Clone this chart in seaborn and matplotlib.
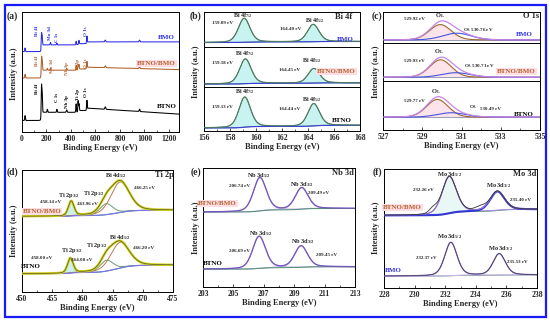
import numpy as np
import matplotlib
matplotlib.use("Agg")
import matplotlib.pyplot as plt
import seaborn as sns
from matplotlib.patches import Rectangle
from matplotlib.ticker import MultipleLocator

sns.set_theme(style="ticks")
plt.rcParams["font.family"] = ["Liberation Serif", "DejaVu Serif"]
plt.rcParams["font.weight"] = "bold"
plt.rcParams["axes.labelweight"] = "bold"
plt.rcParams["mathtext.fontset"] = "custom"
plt.rcParams["mathtext.rm"] = "Liberation Serif:bold"
plt.rcParams["mathtext.it"] = "Liberation Serif:bold"
plt.rcParams["mathtext.bf"] = "Liberation Serif:bold"

# ---------------- data ----------------
sample_colors = {"BMO": "#2b2be6", "BTNO/BMO": "#b0602a", "BTNO": "black"}

# (a) survey: peak centres (eV), widths, heights per sample (arb. units, 0-100 panel)
survey_centers = [25, 159, 164.5, 207, 232, 285, 365, 442, 458, 465, 530, 680, 960]
survey_widths = [6, 6, 6, 6, 6, 6, 8, 6, 5, 6, 6, 9, 8]
survey_heights = {
    "BMO":      [3, 13, 9, 0, 2.0, 1.5, 0, 3, 0, 3, 6, 1.5, 1.5],
    "BTNO/BMO": [3, 15, 10, 1.5, 1.5, 0, 1.5, 4, 4, 4, 6, 1.5, 1.5],
    "BTNO":     [4, 26, 18, 2.5, 0, 2.5, 2, 7, 9, 6, 8, 2, 2],
}
# background: start level, step after Bi 4f, step at 460, step after O 1s, decay to right end
survey_bg = {
    "BMO":      [67.0, 5.6, 1.0, 1.5, 0.0],
    "BTNO/BMO": [45.0, 6.5, 1.0, 1.5, 2.0],
    "BTNO":     [9.6, 6.8, 1.5, 2.0, 5.0],
}
survey_tags = {
    "BMO":      [("Bi 4f", 125, 84), ("Mo 3d", 229, 82), ("C 1s", 288, 79), ("O 1s", 522, 84)],
    "BTNO/BMO": [("Bi 4f", 125, 59), ("Mo 3d", 242, 55), ("Nb 3p", 365, 53), ("Ti 2p", 454, 56), ("O 1s", 522, 57)],
    "BTNO":     [("Bi 4f", 125, 36), ("C 1s", 288, 29), ("Nb 3p", 365, 25), ("Ti 2p", 454, 31), ("O 1s", 522, 33)],
}
survey_name_pos = {"BMO": (1181, 79), "BTNO/BMO": (1100, 57), "BTNO": (1181, 21)}

# (b) Bi 4f rows (top to bottom)
bi4f_rows = ["BMO", "BTNO/BMO", "BTNO"]
bi4f_centers = {"BMO": [159.09, 164.40], "BTNO/BMO": [159.18, 164.45], "BTNO": [159.13, 164.44]}
bi4f_heights = {"BMO": [0.69, 0.50], "BTNO/BMO": [0.61, 0.36], "BTNO": [0.69, 0.51]}
bi4f_base = {"BMO": [0.12, 0.15], "BTNO/BMO": [0.08, 0.11], "BTNO": [0.07, 0.13]}

# (c) O 1s rows (top to bottom): O_L and O_A
o1s_centers = {"BMO": [529.92, 530.76], "BTNO/BMO": [529.93, 530.71], "BTNO": [529.77, 530.49]}
o1s_heights = {"BMO": [0.50, 0.22], "BTNO/BMO": [0.46, 0.12], "BTNO": [0.36, 0.09]}
o1s_base = {"BMO": 0.09, "BTNO/BMO": 0.09, "BTNO": 0.26}

# (d) Ti 2p / Bi 4d: Ti 2p3/2, Ti 2p1/2, Bi 4d5/2
ti_centers = {"BTNO/BMO": [458.14, 463.96, 466.25], "BTNO": [458.00, 464.00, 466.20]}
ti_heights = {"BTNO/BMO": [0.12, 0.09, 0.25], "BTNO": [0.12, 0.09, 0.21]}
ti_base = {"BTNO/BMO": [0.62, 0.67], "BTNO": [0.15, 0.22]}

# (e) Nb 3d
nb_centers = {"BTNO/BMO": [206.74, 209.49], "BTNO": [206.69, 209.45]}
nb_heights = {"BTNO/BMO": [0.28, 0.18], "BTNO": [0.27, 0.18]}
nb_base = {"BTNO/BMO": [0.63, 0.66], "BTNO": [0.15, 0.17]}

# (f) Mo 3d
mo_centers = {"BTNO/BMO": [232.26, 235.40], "BMO": [232.37, 235.53]}
mo_heights = {"BTNO/BMO": [0.31, 0.16], "BMO": [0.28, 0.18]}
mo_base = {"BTNO/BMO": [0.61, 0.66], "BMO": [0.10, 0.11]}
mo_extra = [(231.2, 0.04, 0.6), (234.3, 0.03, 0.8)]  # shoulders in the BTNO/BMO data

# ---------------- helpers ----------------
W, H = 550, 322


def rect(l, t, r, b):
    return [l / W, 1 - b / H, (r - l) / W, (b - t) / H]


def pv(x, c, h, w, eta=0.3):
    d = (x - c) / w
    return h * ((1 - eta) * np.exp(-4 * np.log(2) * d ** 2) + eta / (1 + 4 * d ** 2))


def shirley(sig, left, right):
    cs = np.cumsum(sig)
    return left + (right - left) * cs / cs[-1]


def line(ax, x, y, color, lw=0.7, z=2):
    sns.lineplot(x=x, y=y, ax=ax, color=color, linewidth=lw, estimator=None,
                 sort=False, legend=False, zorder=z)


def style(ax, xlim, major, minor, labels=True):
    ax.set_xlim(*xlim)
    ax.set_ylim(0, 1)
    ax.set_yticks([])
    ax.set_ylabel("")
    ax.xaxis.set_major_locator(MultipleLocator(major))
    ax.xaxis.set_minor_locator(MultipleLocator(minor))
    ax.tick_params(axis="x", which="major", direction="in", length=2.2, width=0.6,
                   labelsize=5.5, pad=2, top=False)
    ax.tick_params(axis="x", which="minor", direction="in", length=1.2, width=0.5, top=False)
    if not labels:
        ax.tick_params(axis="x", which="both", bottom=False, labelbottom=False)
    for s in ax.spines.values():
        s.set_linewidth(0.7)
        s.set_color("black")


def sample_label(ax, x, y, name, size=5):
    kw = {}
    if name == "BTNO/BMO":
        kw["bbox"] = dict(boxstyle="square,pad=0.15", fc="#ffdde3", ec="none")
    ax.text(x, y, name, color=sample_colors[name], fontsize=size, ha="center",
            va="center", fontweight="bold", **kw)


def note(ax, x, y, s, size=3.8):
    ax.text(x, y, s, fontsize=size, ha="center", va="center", fontweight="bold")


fig = plt.figure(figsize=(5.5, 3.22), dpi=100)
fig.patches.append(Rectangle((4.5 / W, 1 - 317 / H), 541.5 / W, 312.5 / H,
                             transform=fig.transFigure, fill=False,
                             ec="#1a1aff", lw=1.6, zorder=0))

xl_kw = dict(fontsize=6, fontweight="bold", labelpad=1)

# ---------------- (a) survey ----------------
ax = fig.add_axes(rect(22, 12, 179, 132))
xs = np.arange(0, 1285, 0.5)
for name in ["BMO", "BTNO/BMO", "BTNO"]:
    y0, s1, s2, s3, dec = survey_bg[name]
    sig = lambda c, w: 1 / (1 + np.exp(-(xs - c) / w))
    bg = y0 + s1 * sig(162, 3) + s2 * sig(460, 4) + s3 * sig(533, 3) \
        - dec * np.clip(xs - 533, 0, None) / 750
    y = bg.copy()
    for c, h, w in zip(survey_centers, survey_heights[name], survey_widths):
        y += pv(xs, c, h, w, eta=0.1)
    line(ax, xs, y, sample_colors[name], lw=0.75)
    for t, x, yy in survey_tags[name]:
        ax.text(x, yy, t, rotation=90, fontsize=3.6, ha="center", va="center",
                color=sample_colors[name], fontweight="bold")
    px, py = survey_name_pos[name]
    sample_label(ax, px, py, name, size=5)
style(ax, (0, 1282), 200, 100)
ax.set_ylim(0, 100)
ax.set_xlabel("Binding Energy (eV)", **xl_kw)

# ---------------- (b) Bi 4f ----------------
b_edges = [12, 46.7, 87.3, 131]
xb = np.linspace(156, 168, 600)
b_notes = {
    "BMO": [(159.0, 0.89, "Bi 4f$_{7/2}$"), (157.4, 0.68, "159.09 eV"),
            (164.5, 0.76, "Bi 4f$_{5/2}$"), (162.7, 0.50, "164.40 eV")],
    "BTNO/BMO": [(159.15, 0.84, "Bi 4f$_{7/2}$"), (157.45, 0.59, "159.18 eV"),
                 (164.3, 0.67, "Bi 4f$_{5/2}$"), (162.6, 0.43, "164.45 eV")],
    "BTNO": [(159.15, 0.90, "Bi 4f$_{7/2}$"), (157.4, 0.54, "159.13 eV"),
             (164.3, 0.72, "Bi 4f$_{5/2}$"), (162.6, 0.50, "164.44 eV")],
}
b_name_pos = {"BMO": (166.9, 0.21), "BTNO/BMO": (166.2, 0.40), "BTNO": (166.6, 0.23)}
for i, name in enumerate(bi4f_rows):
    ax = fig.add_axes(rect(204, b_edges[i], 360, b_edges[i + 1]))
    comps = [pv(xb, c, h, 1.05) for c, h in zip(bi4f_centers[name], bi4f_heights[name])]
    base = shirley(sum(comps) + 1e-4, *bi4f_base[name])
    for cp in comps:
        ax.fill_between(xb, base, base + cp, color="#c9f3f0", lw=0, zorder=1)
        line(ax, xb, base + cp, "#5e9c78", lw=0.7)
    line(ax, xb, base, "#3a3ad8", lw=0.8)
    line(ax, xb, base + sum(comps), "#4d7862", lw=0.8, z=3)
    for x, y, s in b_notes[name]:
        note(ax, x, y, s, size=4.3 if "Bi" in s else 3.6)
    sample_label(ax, *b_name_pos[name], name)
    style(ax, (156, 168), 2, 1, labels=(i == 2))
    if i == 0:
        ax.text(166.7, 0.86, "Bi 4f", fontsize=6, ha="center", va="center", fontweight="bold")
    if i == 2:
        ax.set_xlabel("Binding Energy (eV)", **xl_kw)

# ---------------- (c) O 1s ----------------
c_edges = [12, 42.7, 80.7, 130]
xc = np.linspace(527, 535, 600)
c_notes = {
    "BMO": [(529.92, 0.88, "O$_L$"), (528.6, 0.77, "529.92 eV"), (531.84, 0.40, "O$_A$ 530.76 eV")],
    "BTNO/BMO": [(529.87, 0.78, "O$_L$"), (528.6, 0.52, "529.93 eV"), (531.9, 0.37, "O$_A$ 530.71 eV")],
    "BTNO": [(529.7, 0.78, "O$_L$"), (528.6, 0.59, "529.77 eV"), (531.58, 0.47, "O$_A$"),
             (532.5, 0.42, "530.49 eV")],
}
c_name_pos = {"BMO": (534.2, 0.27), "BTNO/BMO": (533.8, 0.25), "BTNO": (534.15, 0.32)}
for i, name in enumerate(bi4f_rows):
    ax = fig.add_axes(rect(383, c_edges[i], 540, c_edges[i + 1]))
    (cl, ca), (hl, ha) = o1s_centers[name], o1s_heights[name]
    ol = pv(xc, cl, hl, 1.3, eta=0.1)
    oa = pv(xc, ca, ha, 1.7, eta=0.1)
    base = np.full_like(xc, o1s_base[name])
    ax.fill_between(xc, base, base + ol, color="#fde3ea", lw=0, zorder=1)
    line(ax, xc, base, "#8a8fb0", lw=0.6)
    line(ax, xc, base + ol, "#a0662a", lw=0.8)
    line(ax, xc, base + oa, "#4455dd", lw=0.8)
    line(ax, xc, base + ol + oa, "#c784e6", lw=0.9, z=3)
    for x, y, s in c_notes[name]:
        note(ax, x, y, s, size=4.6 if s.startswith("O$_L") else 3.6)
    sample_label(ax, *c_name_pos[name], name)
    style(ax, (527, 535), 2, 1, labels=(i == 2))
    ax.xaxis.set_major_locator(MultipleLocator(2, offset=1))
    if i == 0:
        ax.text(534.57, 0.86, "O 1s", fontsize=6, ha="center", va="center", fontweight="bold")
    if i == 2:
        ax.set_xlabel("Binding Energy (eV)", **xl_kw)

# ---------------- (d) Ti 2p ----------------
ax = fig.add_axes(rect(22, 170, 173, 292))
xd = np.linspace(450, 475, 800)
d_widths = [1.1, 2.5, 3.6]
d_colors = ["#3d8f92", "#6f9a6c", "#b77a55"]
d_fill = ["#cdf1ef", None, None]
for name in ["BTNO/BMO", "BTNO"]:
    comps = [pv(xd, c, h, w) for c, h, w in zip(ti_centers[name], ti_heights[name], d_widths)]
    base = shirley(sum(comps) + 1e-4, *ti_base[name])
    for cp, col, fc in zip(comps, d_colors, d_fill):
        if fc:
            ax.fill_between(xd, base, base + cp, color=fc, lw=0, zorder=1)
        line(ax, xd, base + cp, col, lw=0.7)
    line(ax, xd, base, "#7b74e6", lw=0.8)
    env = base + sum(comps)
    line(ax, xd, env, "#d6d21e", lw=1.8, z=3)
    line(ax, xd, env, "#4f5a2a", lw=0.5, z=4)
d_notes = [(465.5, 0.955, "Bi 4d$_{5/2}$"), (470.2, 0.85, "466.25 eV"),
           (461.9, 0.81, "Ti 2p$_{1/2}$"), (457.7, 0.79, "Ti 2p$_{3/2}$"),
           (454.7, 0.74, "458.14 eV"), (460.9, 0.72, "463.96 eV"),
           (466.3, 0.45, "Bi 4d$_{5/2}$"), (462.4, 0.38, "Ti 2p$_{1/2}$"),
           (458.3, 0.34, "Ti 2p$_{3/2}$"), (470.2, 0.36, "466.20 eV"),
           (453.3, 0.28, "458.00 eV"), (459.9, 0.26, "464.00 eV")]
for x, y, s in d_notes:
    note(ax, x, y, s, size=4.6 if "eV" not in s else 3.6)
sample_label(ax, 453.3, 0.66, "BTNO/BMO")
sample_label(ax, 451.4, 0.21, "BTNO")
style(ax, (450, 475), 5, 2.5)
ax.text(473.6, 0.955, "Ti 2p", fontsize=6, ha="center", va="center", fontweight="bold")
ax.set_xlabel("Binding Energy (eV)", **xl_kw)

# ---------------- (e) Nb 3d ----------------
ax = fig.add_axes(rect(203, 168, 355, 287))
xe = np.linspace(203, 213, 600)
for name in ["BTNO/BMO", "BTNO"]:
    comps = [pv(xe, c, h, 1.0) for c, h in zip(nb_centers[name], nb_heights[name])]
    base = shirley(sum(comps) + 1e-4, *nb_base[name])
    for cp in comps:
        line(ax, xe, base + cp, "#b7a6e3", lw=0.8)
    line(ax, xe, base, "#4f8f6f", lw=0.7)
    line(ax, xe, base + sum(comps), "#7356b8", lw=0.9, z=3)
e_notes = [(206.7, 0.94, "Nb 3d$_{5/2}$"), (209.5, 0.86, "Nb 3d$_{3/2}$"),
           (205.4, 0.85, "206.74 eV"), (210.6, 0.79, "209.49 eV"),
           (206.8, 0.45, "Nb 3d$_{5/2}$"), (209.6, 0.38, "Nb 3d$_{3/2}$"),
           (205.4, 0.30, "206.69 eV"), (211.1, 0.27, "209.45 eV")]
for x, y, s in e_notes:
    note(ax, x, y, s, size=4.6 if "eV" not in s else 3.6)
sample_label(ax, 203.95, 0.70, "BTNO/BMO")
sample_label(ax, 203.65, 0.20, "BTNO")
style(ax, (203, 213), 2, 1)
ax.xaxis.set_major_locator(MultipleLocator(2, offset=1))
ax.text(212.2, 0.955, "Nb 3d", fontsize=6, ha="center", va="center", fontweight="bold")
ax.set_xlabel("Binding Energy (eV)", **xl_kw)

# ---------------- (f) Mo 3d ----------------
ax = fig.add_axes(rect(384, 169, 537, 288))
xf = np.linspace(228, 238, 600)
for name in ["BTNO/BMO", "BMO"]:
    w = 1.1 if name == "BTNO/BMO" else 0.95
    comps = [pv(xf, c, h, w) for c, h in zip(mo_centers[name], mo_heights[name])]
    base = shirley(sum(comps) + 1e-4, *mo_base[name])
    env = base + sum(comps)
    line(ax, xf, base, "#5a9a80", lw=0.7)
    if name == "BTNO/BMO":
        data = env + sum(pv(xf, c, h, ww) for c, h, ww in mo_extra)
        ax.fill_between(xf, base, base + comps[0], color="#e9f8f4", lw=0, zorder=1)
        line(ax, xf, data, "#333333", lw=0.6, z=4)
        line(ax, xf, base + comps[0], "#a98fd8", lw=0.8)
        line(ax, xf, base + comps[1], "#3636d6", lw=1.5, z=3)
        line(ax, xf, env, "#8a6fcc", lw=0.8, z=3)
    else:
        for cp in comps:
            line(ax, xf, base + cp, "#cdb4ea", lw=0.8)
        line(ax, xf, env, "#8a6fcc", lw=0.9, z=3)
        line(ax, xf, env, "#333333", lw=0.4, z=4)
f_notes = [(232.3, 0.955, "Mo 3d$_{5/2}$"), (230.6, 0.82, "232.26 eV"),
           (235.5, 0.86, "Mo 3d$_{3/2}$"), (236.9, 0.74, "235.40 eV"),
           (232.3, 0.43, "Mo 3d$_{5/2}$"), (230.75, 0.25, "232.37 eV"),
           (235.6, 0.33, "Mo 3d$_{3/2}$"), (236.7, 0.22, "235.53 eV")]
for x, y, s in f_notes:
    note(ax, x, y, s, size=4.6 if "eV" not in s else 3.6)
sample_label(ax, 229.2, 0.68, "BTNO/BMO")
sample_label(ax, 228.6, 0.15, "BMO")
style(ax, (228, 238), 2, 1)
ax.text(237.2, 0.955, "Mo 3d", fontsize=6, ha="center", va="center", fontweight="bold")
ax.set_xlabel("Binding Energy (eV)", **xl_kw)

# ---------------- shared labels ----------------
for (x, y, lab) in [(12, 16, "(a)"), (196, 16, "(b)"), (377, 16, "(c)"),
                    (12, 172, "(d)"), (196, 172, "(e)"), (377, 172, "(f)")]:
    fig.text(x / W, 1 - y / H, lab, fontsize=7, fontweight="bold", ha="center", va="center")
for (x, y) in [(14, 74), (196, 72), (376, 72), (14, 231), (196, 228), (376, 228)]:
    fig.text(x / W, 1 - y / H, "Intensity (a.u.)", fontsize=6, fontweight="bold",
             rotation=90, ha="center", va="center")

fig.savefig("out.png", dpi=100)
